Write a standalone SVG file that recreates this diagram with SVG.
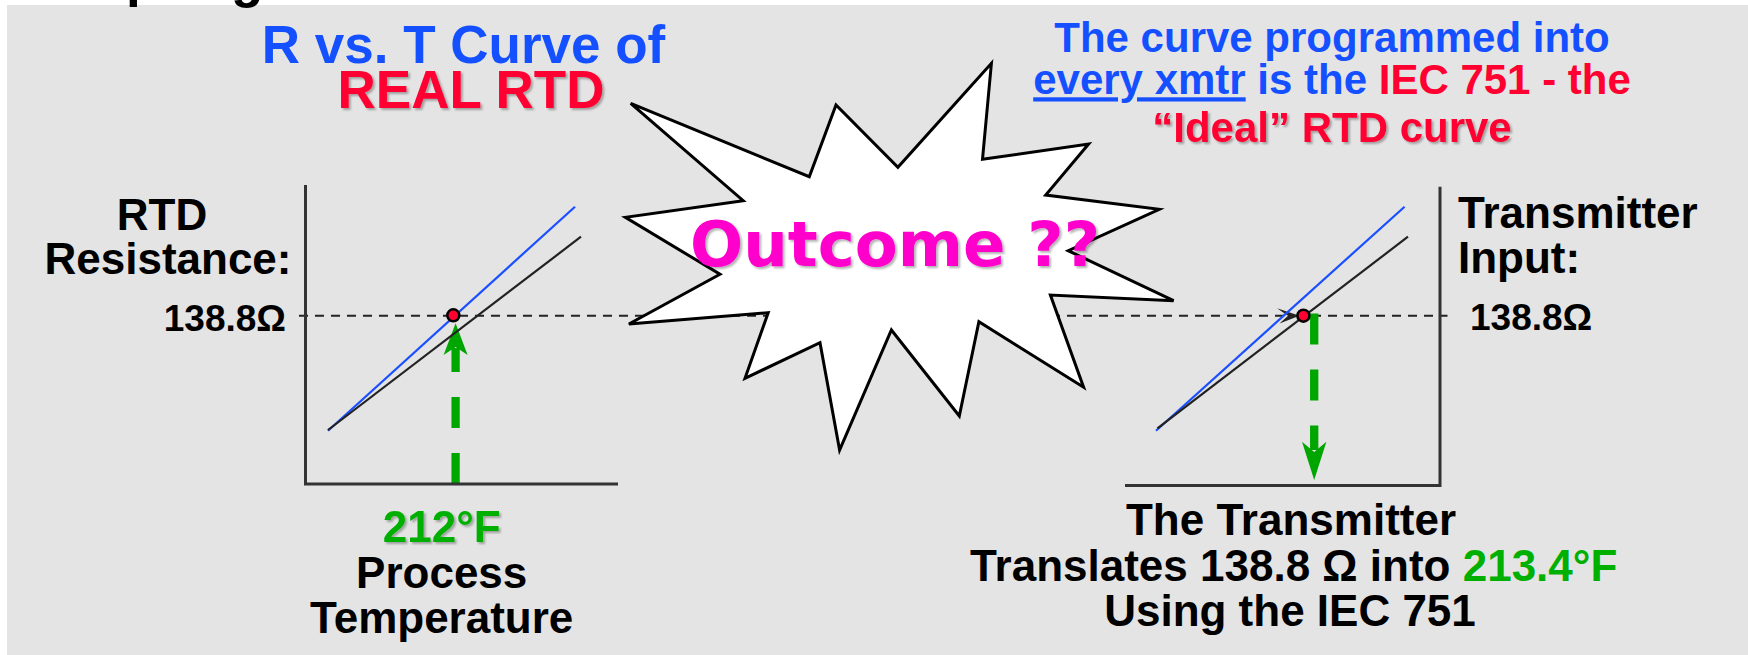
<svg xmlns="http://www.w3.org/2000/svg" width="1748" height="655" viewBox="0 0 1748 655">
<defs>
<style>
.t{font-family:"Liberation Sans",Arial,sans-serif;font-weight:bold;}
.blue{fill:#1450ff;}
.red{fill:#ff0030;}
.grn{fill:#00b000;}
.blk{fill:#000;}
.axis{stroke:#333;stroke-width:3;fill:none;}
.ideal{stroke:#222;stroke-width:2.2;fill:none;}
.real{stroke:#1a4fff;stroke-width:2.2;fill:none;}
.dash{stroke:#222;stroke-width:2;stroke-dasharray:9 7;fill:none;}
.gdash{stroke:#00a600;stroke-width:8.3;stroke-dasharray:31 25;fill:none;}
.dot{fill:#ff0030;stroke:#000;stroke-width:2.5;}
</style>
<filter id="sh" x="-5%" y="-10%" width="110%" height="130%">
<feDropShadow dx="2" dy="2" stdDeviation="1.2" flood-color="#000" flood-opacity="0.3"/>
</filter>
</defs>

<g id="background">
<rect x="0" y="0" width="1748" height="655" fill="#ffffff"/>
<rect x="7" y="5" width="1741" height="650" fill="#e4e4e4"/>
<text class="t blk" x="126" y="-4" font-size="53">p</text>
<text class="t blk" x="231" y="-3" font-size="53">g</text>
</g>

<g id="connectors">
<line class="dash" x1="299" y1="315.7" x2="1286" y2="315.7"/>
<polygon points="1299.5,315.7 1277,308.3 1288,315.7 1279.5,323.5" fill="#222"/>
<line class="dash" x1="1312" y1="315.7" x2="1447.5" y2="315.7"/>
<line class="gdash" x1="455.6" y1="484" x2="455.6" y2="348"/>
<polygon points="455.6,323.3 467.6,355 455.6,347 443.6,355" fill="#00a600"/>
<line class="gdash" x1="1314.2" y1="313.5" x2="1314.2" y2="450"/>
<polygon points="1314.2,480 1302,441.7 1314.2,452 1326.4,441.7" fill="#00a600"/>
</g>

<g id="starburst">
<polygon points="630.7,103.3 809.3,176.7 836,105 897.9,167.3 991.4,63.3 982.5,159.3 1088.6,144 1045.7,195 1159.3,209.3 1068.2,250.7 1173.6,300.7 1050.4,295 1083.6,387.3 978.9,321.7 959.3,416 891.4,330 839.6,450 820,342.7 745,378.3 768.2,312.7 628.9,324 720,274.3 625.4,217.3 743.2,200.7" fill="#ffffff" stroke="#000" stroke-width="3" stroke-linejoin="miter"/>
<text x="895" y="266" font-family="'DejaVu Sans','Liberation Sans',sans-serif" font-weight="bold" font-size="63" fill="#ff00cc" text-anchor="middle" textLength="410" lengthAdjust="spacingAndGlyphs" filter="url(#sh)">Outcome ??</text>
</g>

<g id="chart-left">
<polyline class="axis" points="305.5,185 305.5,484 618,484"/>
<line class="real" x1="328" y1="430.7" x2="575" y2="206.7"/>
<line class="ideal" x1="328" y1="430" x2="581" y2="236.7"/>
<circle class="dot" cx="453.3" cy="315.3" r="6"/>
</g>

<g id="chart-right">
<polyline class="axis" points="1440,186.7 1440,485.5 1125,485.5"/>
<line class="real" x1="1156" y1="430.7" x2="1404.6" y2="206.7"/>
<line class="ideal" x1="1157.4" y1="428.3" x2="1408" y2="236.7"/>
<circle class="dot" cx="1303.4" cy="315.7" r="6"/>
</g>

<g id="title-left">
<text class="t blue" x="463.5" y="63" font-size="53" text-anchor="middle">R vs. T Curve of</text>
<text class="t red" x="471" y="108" font-size="53" text-anchor="middle" filter="url(#sh)">REAL RTD</text>
</g>

<g id="title-right">
<text class="t blue" x="1332" y="51.7" font-size="42" text-anchor="middle">The curve programmed into</text>
<text class="t" x="1332" y="94.3" font-size="42" text-anchor="middle"><tspan class="blue" text-decoration="underline">every xmtr</tspan><tspan class="blue"> is the </tspan><tspan class="red">IEC 751 - the</tspan></text>
<text class="t red" x="1332" y="141.7" font-size="42" text-anchor="middle" filter="url(#sh)">“Ideal” RTD curve</text>
</g>

<g id="label-left">
<text class="t blk" x="162" y="230" font-size="44" text-anchor="middle">RTD</text>
<text class="t blk" x="168" y="273.5" font-size="44" text-anchor="middle">Resistance:</text>
<text class="t blk" x="286" y="330.5" font-size="37" text-anchor="end">138.8Ω</text>
</g>

<g id="label-right">
<text class="t blk" x="1458" y="228" font-size="44">Transmitter</text>
<text class="t blk" x="1458" y="273" font-size="44">Input:</text>
<text class="t blk" x="1470" y="329.5" font-size="37">138.8Ω</text>
</g>

<g id="caption-left">
<text class="t grn" x="441.7" y="541.7" font-size="44" text-anchor="middle" filter="url(#sh)">212°F</text>
<text class="t blk" x="441.7" y="588.3" font-size="44" text-anchor="middle">Process</text>
<text class="t blk" x="441.7" y="633.3" font-size="44" text-anchor="middle">Temperature</text>
</g>

<g id="caption-right">
<text class="t blk" x="1291" y="535" font-size="44" text-anchor="middle">The Transmitter</text>
<text class="t blk" x="1293.7" y="581" font-size="44" text-anchor="middle">Translates 138.8 Ω into <tspan class="grn">213.4°F</tspan></text>
<text class="t blk" x="1290" y="625.7" font-size="44" text-anchor="middle">Using the IEC 751</text>
</g>
</svg>
